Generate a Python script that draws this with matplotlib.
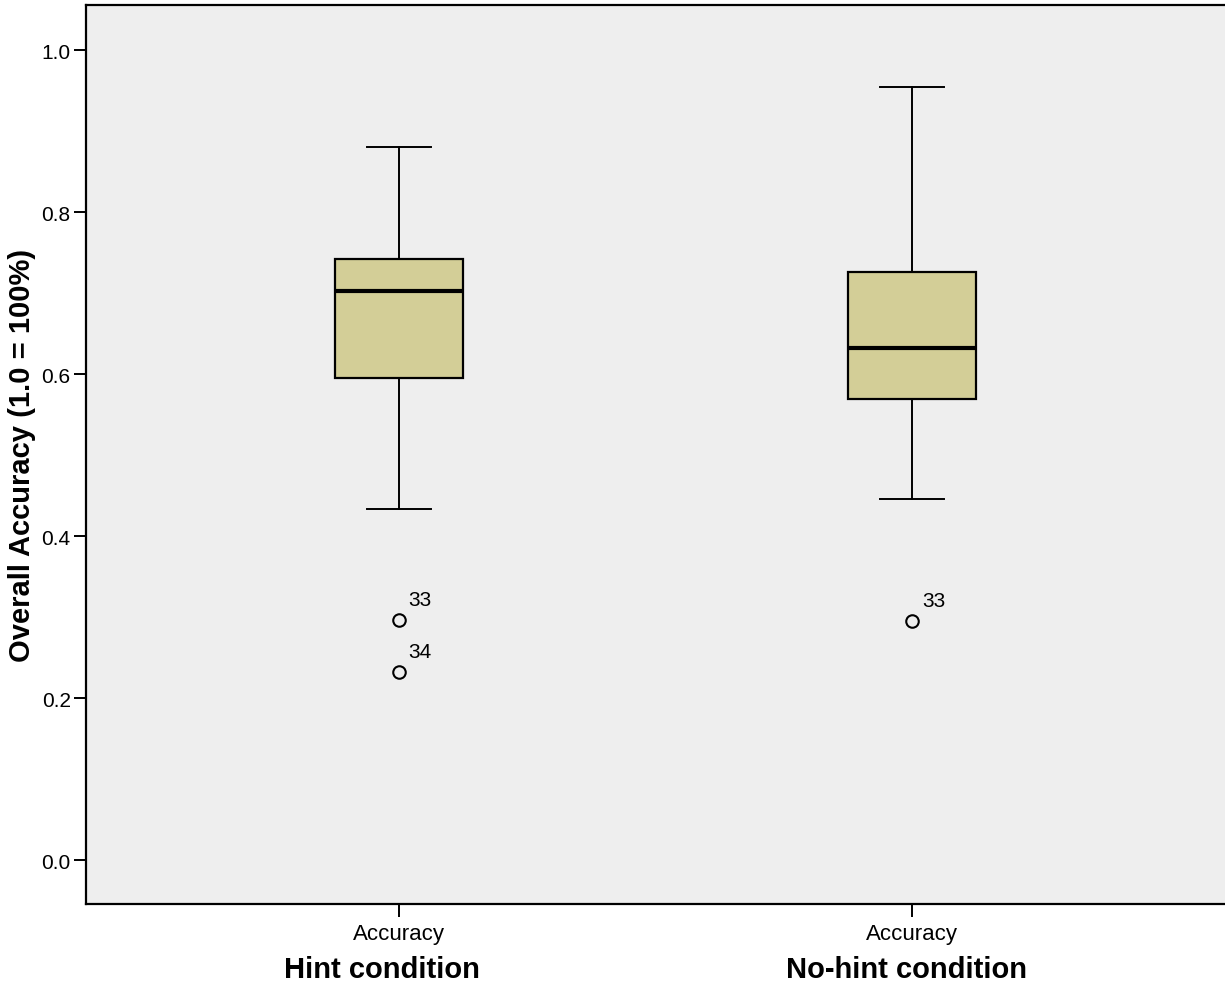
import matplotlib.pyplot as plt

# group labels and box statistics
groups = ['Hint condition', 'No-hint condition']
tick_labels = ['Accuracy', 'Accuracy']
whisker_low = [0.433, 0.446]
q1 = [0.595, 0.569]
median = [0.702, 0.632]
q3 = [0.742, 0.726]
whisker_high = [0.880, 0.954]
outliers = [[0.297, 0.232], [0.295]]
outlier_ids = [['33', '34'], ['33']]

plt.rcParams['font.family'] = ['Liberation Sans', 'DejaVu Sans']

fig = plt.figure(figsize=(12.25, 9.87), dpi=100)
ax = fig.add_axes([86 / 1225, 1 - 905 / 987, 1 - 86 / 1225, (905 - 6) / 987])
ax.set_facecolor('#eeeeee')

stats = []
for i in range(len(groups)):
    stats.append({'whislo': whisker_low[i], 'q1': q1[i], 'med': median[i],
                  'q3': q3[i], 'whishi': whisker_high[i], 'fliers': outliers[i]})

positions = [1, 2]
ax.bxp(stats, positions=positions, widths=0.25, patch_artist=True,
       boxprops=dict(facecolor='#d3ce97', edgecolor='black', linewidth=1.6),
       medianprops=dict(color='black', linewidth=3),
       whiskerprops=dict(color='black', linewidth=1.4),
       capprops=dict(color='black', linewidth=1.4),
       capwidths=0.125,
       flierprops=dict(marker='o', markerfacecolor='none', markeredgecolor='black',
                       markersize=9, markeredgewidth=1.5))

# case numbers next to the outliers
for pos, vals, ids in zip(positions, outliers, outlier_ids):
    for v, t in zip(vals, ids):
        ax.annotate(t, (pos, v), xytext=(7, 8), textcoords='offset points',
                    fontsize=15, ha='left', va='bottom')

ax.set_xlim(0.391, 2.609)
ax.set_ylim(-0.054, 1.0556)
ax.set_yticks([0.0, 0.2, 0.4, 0.6, 0.8, 1.0])
ax.set_yticklabels(['0.0', '0.2', '0.4', '0.6', '0.8', '1.0'])
ax.set_xticks(positions)
ax.set_xticklabels(tick_labels)
ax.tick_params(axis='both', direction='out', length=9, width=1.4, labelsize=15, pad=2)
ax.tick_params(axis='x', pad=5, labelsize=16)

# group titles sit a little left of the tick in the original
shifts = [-12, -4]
for pos, g, dx in zip(positions, groups, shifts):
    ax.annotate(g, (pos, 0), xycoords=ax.get_xaxis_transform(),
                xytext=(dx, -37), textcoords='offset points', ha='center', va='top',
                fontsize=21, fontweight='bold', annotation_clip=False)

ax.set_ylabel('Overall Accuracy (1.0 = 100%)', fontsize=21, fontweight='bold', labelpad=4)

for s in ['left', 'bottom', 'top']:
    ax.spines[s].set_linewidth(1.6)
ax.spines['right'].set_visible(False)

fig.savefig('out.png', dpi=100)
